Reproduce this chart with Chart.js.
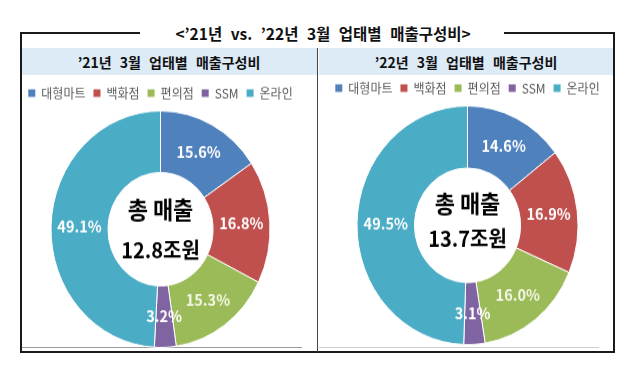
<!DOCTYPE html>
<html><head><meta charset="utf-8">
<script src="https://cdn.jsdelivr.net/npm/chart.js@4/dist/chart.umd.min.js"></script>
<style>
html,body{margin:0;padding:0;background:#fff;width:644px;height:379px;overflow:hidden;font-family:"Noto Sans CJK KR","Noto Sans",sans-serif;}
.abs{position:absolute;}
.ln{position:absolute;background:#1a1a1a;}
.band{position:absolute;background:#DDEBF7;top:48px;height:27px;}
.hdr{position:absolute;font-weight:bold;font-size:14px;color:#111;white-space:nowrap;transform:translate(-50%,-50%);word-spacing:5px;}
.title{position:absolute;left:323px;top:33px;transform:translate(-50%,-50%);font-weight:bold;font-size:15.5px;color:#111;white-space:nowrap;word-spacing:5px;}
.wrap{position:absolute;transform:scaleY(1.08);transform-origin:0 0;}
</style></head><body>
<div class="ln" style="left:21px;top:32px;width:119px;height:2px;"></div>
<div class="ln" style="left:504px;top:32px;width:111px;height:2px;"></div>
<div class="ln" style="left:20px;top:32px;width:2px;height:321px;"></div>
<div class="ln" style="left:613px;top:32px;width:2px;height:321px;"></div>
<div class="ln" style="left:20px;top:351px;width:595px;height:2px;"></div>
<div class="band" style="left:22px;width:295px;"></div>
<div class="band" style="left:319px;width:294px;"></div>
<div class="ln" style="left:317px;top:48px;width:1px;height:304px;background:#444;"></div>
<div class="abs" style="left:22px;top:347px;width:280px;height:1px;background:#9a9a9a;"></div>
<div class="abs" style="left:319px;top:347px;width:280px;height:1px;background:#cfcfcf;"></div>
<div class="title">&lt;’21년 vs. ’22년 3월 업태별 매출구성비&gt;</div>
<div class="hdr" style="left:169px;top:62px;">’21년 3월 업태별 매출구성비</div>
<div class="hdr" style="left:466px;top:62px;">’22년 3월 업태별 매출구성비</div>
<div class="wrap" style="left:12px;top:78px;"><canvas id="c1" width="297" height="250"></canvas></div>
<div class="wrap" style="left:318px;top:73px;"><canvas id="c2" width="296" height="252"></canvas></div>
<script>
const categories = ['대형마트','백화점','편의점','SSM','온라인'];
const share2021 = [15.6, 16.8, 15.3, 3.2, 49.1];
const share2022 = [14.6, 16.9, 16.0, 3.1, 49.5];
const totalLabel = '총 매출';
const totals = ['12.8조원', '13.7조원'];
const segColors = ['#4F81BD','#C0504D','#9BBB59','#8064A2','#4BACC6'];

const FONT = '"Noto Sans CJK KR", "Noto Sans", sans-serif';

const donutText = {
  id: 'donutText',
  afterDatasetsDraw(chart, args, opts) {
    const ctx = chart.ctx;
    const meta = chart.getDatasetMeta(0);
    const ds = chart.data.datasets[0];
    ctx.save();
    ctx.textAlign = 'center';
    ctx.textBaseline = 'middle';
    ctx.font = 'bold 14.5px ' + FONT;
    meta.data.forEach((arc, i) => {
      const p = arc.tooltipPosition();
      ctx.fillStyle = i === 2 ? '#F4F7E6' : '#FFFFFF';
      ctx.fillText(ds.data[i].toFixed(1) + '%', p.x, p.y);
    });
    const c = meta.data[0];
    ctx.fillStyle = '#000';
    ctx.font = 'bold 22px ' + FONT;
    ctx.fillText(opts.line1, c.x, c.y + opts.dy1);
    ctx.font = 'bold 20px ' + FONT;
    ctx.fillText(opts.line2, c.x, c.y + opts.dy2);
    ctx.restore();
  }
};

function makeChart(id, values, total, pad, dy1, dy2) {
  return new Chart(document.getElementById(id), {
    type: 'doughnut',
    data: {
      labels: categories,
      datasets: [{
        data: values,
        backgroundColor: segColors,
        borderColor: '#FFFFFF',
        borderWidth: 1,
        hoverOffset: 0
      }]
    },
    options: {
      responsive: false,
      devicePixelRatio: 1,
      animation: false,
      cutout: '48%',
      layout: { padding: pad },
      plugins: {
        tooltip: { enabled: false },
        legend: {
          position: 'top',
          labels: {
            boxWidth: 7,
            boxHeight: 7,
            padding: 8,
            color: '#595959',
            font: { size: 12, family: FONT },
            generateLabels(chart) {
              const items = Chart.overrides.doughnut.plugins.legend.labels.generateLabels(chart);
              items.forEach(it => { it.lineWidth = 0; it.fontColor = '#595959'; });
              return items;
            }
          }
        },
        donutText: { line1: totalLabel, line2: total, dy1: dy1, dy2: dy2 }
      }
    },
    plugins: [donutText]
  });
}

makeChart('c1', share2021, totals[0], { top: 0, bottom: 0, left: 0, right: 0 }, -18, 19);
makeChart('c2', share2022, totals[1], { top: 0, bottom: 0, left: 3, right: 0 }, -20, 12);
</script>
</body></html>
